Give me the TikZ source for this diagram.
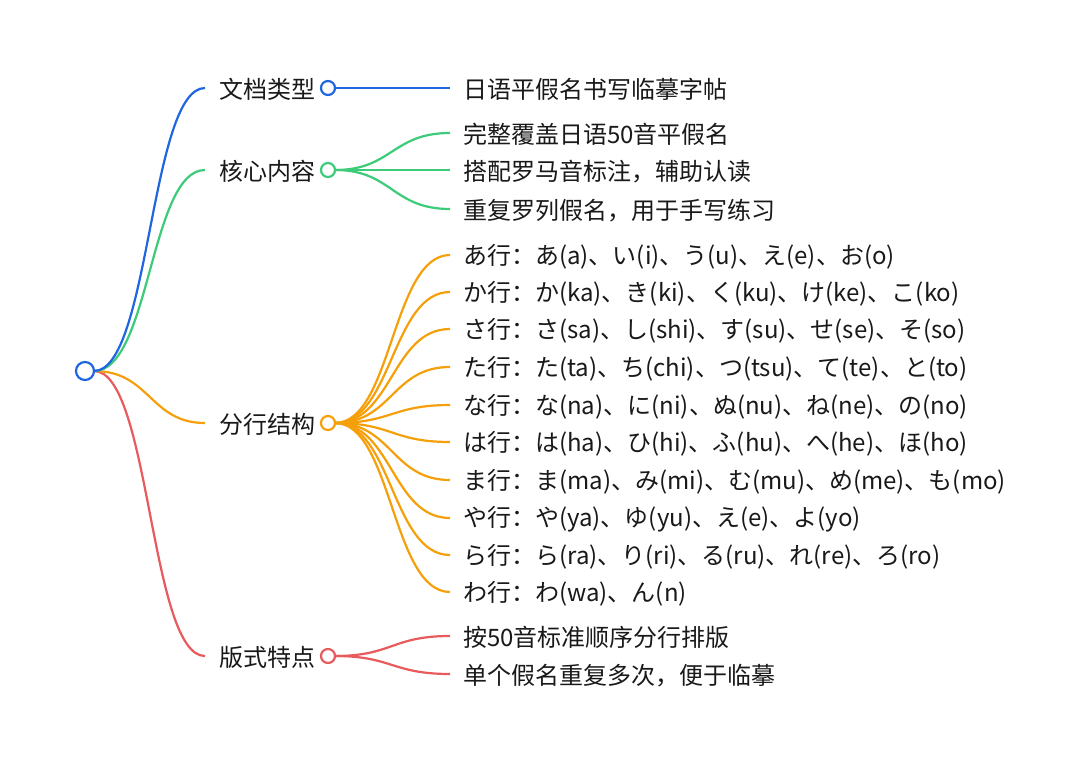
\documentclass[tikz,border=0pt]{standalone}
\usepackage{fontspec}
\setmainfont{Noto Sans CJK SC}
\begin{document}
\begin{tikzpicture}[x=1pt,y=-1pt,
  edge/.style={line width=2.2pt},
  lab/.style={anchor=west,inner sep=0pt,yshift=-1.5pt,font=\fontsize{24}{26}\selectfont,text=black!90},
  leaf/.style={anchor=west,inner sep=0pt,yshift=-1.5pt,font=\fontsize{24}{26}\selectfont,text=black!90},
  dot/.style={circle,line width=2.2pt,fill=white,inner sep=0pt,minimum size=14pt},
  rootdot/.style={circle,line width=2.2pt,fill=white,inner sep=0pt,minimum size=18pt}]
\definecolor{cb}{HTML}{1F66E0}
\definecolor{cg}{HTML}{3CCB78}
\definecolor{co}{HTML}{F5A00A}
\definecolor{cr}{HTML}{E85A5C}
\useasboundingbox[fill=white] (0,0) rectangle (1080,761);
% root
\coordinate (root) at (94,371);
% branch ends
\coordinate (b1) at (205,88);
\coordinate (b2) at (205,170);
\coordinate (b3) at (205,423);
\coordinate (b4) at (205,656);
\draw[edge,cr] (root) .. controls (150,371) and (150,656) .. (b4);
\draw[edge,co] (root) .. controls (150,371) and (150,423) .. (b3);
\draw[edge,cg] (root) .. controls (150,371) and (150,170) .. (b2);
\draw[edge,cb] (root) .. controls (150,371) and (150,88) .. (b1);
\node[rootdot,draw=cb] (r) at (85,371) {};
% labels
\node[lab] (l1) at (219,88) {文档类型};
\node[lab] (l2) at (219,170) {核心内容};
\node[lab] (l3) at (219,423) {分行结构};
\node[lab] (l4) at (219,656) {版式特点};
\coordinate (c1) at (328,88);
\coordinate (c2) at (328,170);
\coordinate (c3) at (328,423);
\coordinate (c4) at (328,656);
% leaves
\foreach \y/\t [count=\i] in {88/日语平假名书写临摹字帖}{
  \coordinate (e1\i) at (450,\y);
  \draw[edge,cb] (335,88) .. controls (392,88) and (392,\y) .. (e1\i);
  \node[leaf] (t1\i) at (463,\y) {\t};
}
\foreach \y/\t [count=\i] in {133/完整覆盖日语50音平假名,170/搭配罗马音标注，辅助认读,209/重复罗列假名，用于手写练习}{
  \coordinate (e2\i) at (450,\y);
  \draw[edge,cg] (335,170) .. controls (392,170) and (392,\y) .. (e2\i);
  \node[leaf] (t2\i) at (463,\y) {\t};
}
\foreach \y/\t [count=\i] in {
  255/{あ行：あ(a)、い(i)、う(u)、え(e)、お(o)},
  292/{か行：か(ka)、き(ki)、く(ku)、け(ke)、こ(ko)},
  329/{さ行：さ(sa)、し(shi)、す(su)、せ(se)、そ(so)},
  367/{た行：た(ta)、ち(chi)、つ(tsu)、て(te)、と(to)},
  405/{な行：な(na)、に(ni)、ぬ(nu)、ね(ne)、の(no)},
  442/{は行：は(ha)、ひ(hi)、ふ(hu)、へ(he)、ほ(ho)},
  480/{ま行：ま(ma)、み(mi)、む(mu)、め(me)、も(mo)},
  518/{や行：や(ya)、ゆ(yu)、え(e)、よ(yo)},
  555/{ら行：ら(ra)、り(ri)、る(ru)、れ(re)、ろ(ro)},
  592/{わ行：わ(wa)、ん(n)}}{
  \coordinate (e3\i) at (450,\y);
  \draw[edge,co] (335,423) .. controls (392,423) and (392,\y) .. (e3\i);
  \node[leaf] (t3\i) at (463,\y) {\t};
}
\foreach \y/\t [count=\i] in {636/按50音标准顺序分行排版,674/单个假名重复多次，便于临摹}{
  \coordinate (e4\i) at (450,\y);
  \draw[edge,cr] (335,656) .. controls (392,656) and (392,\y) .. (e4\i);
  \node[leaf] (t4\i) at (463,\y) {\t};
}
\node[dot,draw=cb] (d1) at (c1) {};
\node[dot,draw=cg] (d2) at (c2) {};
\node[dot,draw=co] (d3) at (c3) {};
\node[dot,draw=cr] (d4) at (c4) {};
\end{tikzpicture}
\end{document}
